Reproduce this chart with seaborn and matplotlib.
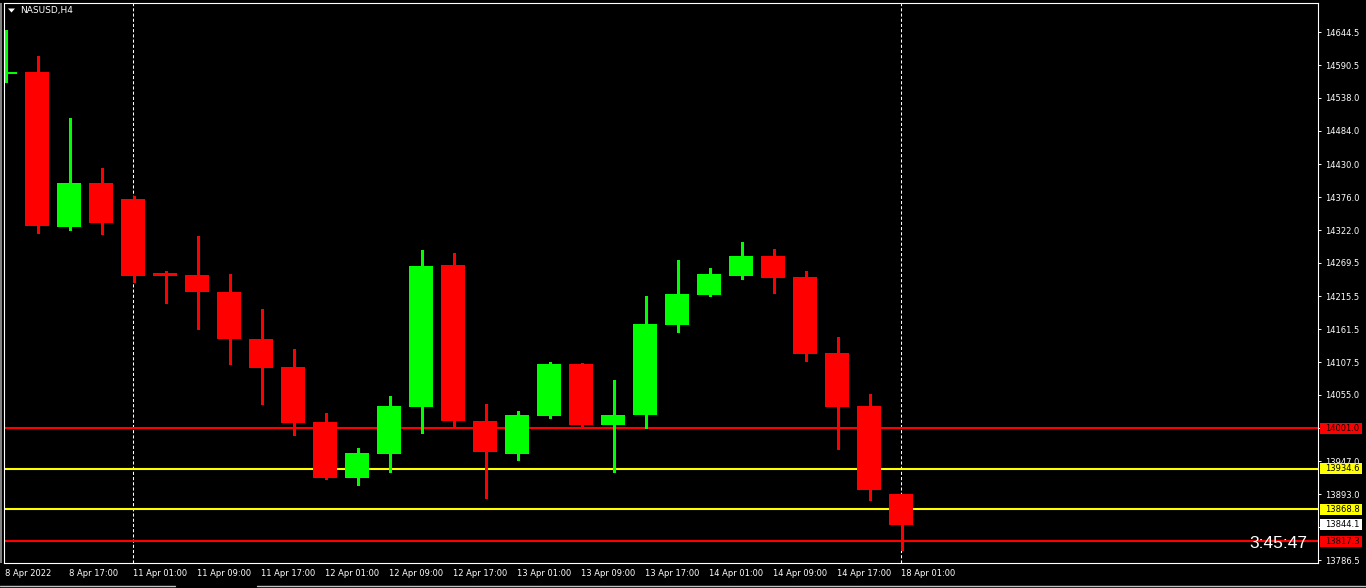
import numpy as np
import pandas as pd
import matplotlib
matplotlib.use('Agg')
import matplotlib.pyplot as plt
import matplotlib.transforms as mtransforms
from matplotlib.patches import Rectangle, Polygon
from matplotlib.lines import Line2D
import seaborn as sns

# ── DATA ──────────────────────────────────────
chart_title = "NASUSD,H4"

opens = [14576.5, 14579.5, 14327.6, 14399.1, 14373.1, 14249.6, 14249.6, 14222.0,
         14145.6, 14100.0, 14010.8, 13919.8, 13958.8, 14035.1, 14265.9, 14012.4,
         13958.8, 14020.5, 14105.0, 14005.9, 14022.1, 14168.4, 14217.1, 14248.0,
         14280.5, 14246.4, 14122.9, 14036.8, 13893.8]
highs = [14647.8, 14605.5, 14504.8, 14423.5, 14378.0, 14256.1, 14313.0, 14251.3,
         14194.4, 14129.4, 14025.4, 13968.5, 14053.0, 14290.3, 14285.4, 14040.0,
         14028.6, 14108.3, 14106.6, 14079.0, 14215.5, 14274.0, 14261.0, 14303.3,
         14291.9, 14256.1, 14148.9, 14056.3, 13894.0]
lows = [14563.3, 14318.1, 14322.8, 14316.3, 14238.3, 14204.1, 14161.9, 14105.0,
        14040.0, 13989.6, 13918.1, 13908.4, 13929.5, 13992.9, 14004.3, 13887.3,
        13949.0, 14017.3, 14002.6, 13929.5, 14001.0, 14157.0, 14215.5, 14243.1,
        14220.4, 14109.9, 13966.9, 13884.0, 13802.8]
closes = [14578.5, 14329.3, 14399.1, 14334.1, 14248.0, 14248.8, 14222.0, 14145.6,
          14098.5, 14009.1, 13919.8, 13960.4, 14036.8, 14264.3, 14012.4, 13962.0,
          14022.1, 14105.0, 14005.9, 14022.1, 14170.0, 14218.8, 14251.3, 14280.5,
          14244.8, 14121.3, 14035.1, 13900.3, 13844.1]

# one label every second H4 bar
time_labels = ['8 Apr 2022', '8 Apr 17:00', '11 Apr 01:00', '11 Apr 09:00',
               '11 Apr 17:00', '12 Apr 01:00', '12 Apr 09:00', '12 Apr 17:00',
               '13 Apr 01:00', '13 Apr 09:00', '13 Apr 17:00', '14 Apr 01:00',
               '14 Apr 09:00', '14 Apr 17:00', '18 Apr 01:00']
separator_labels = ['11 Apr 01:00', '18 Apr 01:00']

price_ticks = [14644.5, 14590.5, 14538.0, 14484.0, 14430.0, 14376.0, 14322.0,
               14269.5, 14215.5, 14161.5, 14107.5, 14055.0, 14001.0, 13947.0,
               13893.0, 13840.5, 13786.5]

level_prices = [14001.0, 13934.6, 13868.8, 13817.3]
level_kinds = ['red', 'yellow', 'yellow', 'red']
current_price = 13844.1
countdown = '3:45:47'

# ── STYLE ─────────────────────────────────────
sns.set_style('dark', rc={'axes.facecolor': 'black', 'figure.facecolor': 'black',
                          'axes.edgecolor': 'white', 'grid.color': 'black'})
plt.rcParams['font.family'] = ['DejaVu Sans']

BULL = '#00FF00'
BEAR = '#FF0000'
level_color = {'red': '#FF0000', 'yellow': '#FFFF00'}

W, H = 1366, 588
PX = 1.625  # price per pixel on the reference scale
fig = plt.figure(figsize=(W / 100, H / 100), dpi=100)
ax = fig.add_axes([4 / W, (H - 563) / H, (1318 - 4) / W, (563 - 2.5) / H])

df = pd.DataFrame({'open': opens, 'high': highs, 'low': lows, 'close': closes})
df['idx'] = np.arange(len(df))
df['bull'] = df['close'] > df['open']
df['color'] = np.where(df['bull'], BULL, BEAR)
df['bottom'] = df[['open', 'close']].min(axis=1)
df['height'] = (df['close'] - df['open']).abs().clip(lower=2.2 * PX)

# period separators
for lab in separator_labels:
    ax.axvline(time_labels.index(lab) * 2, color='white', lw=0.75,
               ls=(0, (3, 2)), zorder=1)

# horizontal levels
for p, k in zip(level_prices, level_kinds):
    ax.axhline(p, color=level_color[k], lw=1.5, zorder=1.5)

# candles (wick nudged half a pixel so it sits on one pixel column)
ax.vlines(df['idx'] + 0.5 / 32, df['low'], df['high'], colors=df['color'], lw=0.8,
          antialiased=False, zorder=2)
ax.bar(df['idx'], df['height'], bottom=df['bottom'], width=0.78,
       color=df['color'], linewidth=0, zorder=2.2)

ax.set_xlim((4 - 5) / 32, (1318 - 5) / 32)
ax.set_ylim(14644.5 - (563 - 32) * PX, 14644.5 + (32 - 2.5) * PX)
ax.grid(False)

for s in ax.spines.values():
    s.set_color('white')
    s.set_linewidth(0.8)

# price axis on the right (labels hidden under the boxes are left blank)
ax.yaxis.tick_right()
ax.set_yticks(price_ticks)
ax.set_yticklabels(['' if v in (14001.0, 13840.5) else f'{v:.1f}' for v in price_ticks])
ax.tick_params(axis='y', colors='white', labelsize=6, length=2.2, width=0.7,
               pad=2.6, direction='out')

# time axis
ax.set_xticks(np.arange(len(time_labels)) * 2)
ax.set_xticklabels(time_labels)
ax.tick_params(axis='x', colors='white', labelsize=6, length=2.2, width=0.7,
               pad=1.8, direction='out')
for t in ax.get_xticklabels():
    t.set_horizontalalignment('left')

# price boxes on the scale
trans = mtransforms.blended_transform_factory(ax.transAxes, ax.transData)
box_x0 = (1320 - 4) / 1314
box_w = 42 / 1314
box_h = 11 * PX
box_prices = level_prices + [current_price]
box_colors = [level_color[k] for k in level_kinds] + ['white']
for p, c in zip(box_prices, box_colors):
    ax.add_patch(Rectangle((box_x0, p - box_h / 2), box_w, box_h, transform=trans,
                           facecolor=c, edgecolor='none', clip_on=False, zorder=5))
    ax.text((1325 - 4) / 1314, p, f'{p:.1f}', transform=trans, color='black',
            fontsize=6, ha='left', va='center', clip_on=False, zorder=6)

# bar countdown
ax.text((1307 - 4) / 1314, (563 - 543.5) / 560.5, countdown, transform=ax.transAxes,
        color='white', fontsize=12.5, family=['Liberation Sans'],
        ha='right', va='center', zorder=6)

# title with small triangle
fig.text(20 / W, 1 - 10.5 / H, chart_title, color='white', fontsize=6.5,
         ha='left', va='center')
fig.patches.append(Polygon([(8 / W, 1 - 8.5 / H), (15 / W, 1 - 8.5 / H),
                            (11.5 / W, 1 - 12.5 / H)], closed=True,
                           facecolor='white', edgecolor='none',
                           transform=fig.transFigure, figure=fig))

# window chrome: left gray edge and bottom tab strip
fig.patches.append(Rectangle((0, (H - 563) / H), 2 / W, 560 / H, facecolor='#808080',
                             edgecolor='none', transform=fig.transFigure, figure=fig))
fig.lines.append(Line2D([0, 175 / W], [1 - 585.5 / H] * 2, color='#c0c0c0', lw=1,
                        transform=fig.transFigure, figure=fig))
fig.lines.append(Line2D([257 / W, 1], [1 - 585.5 / H] * 2, color='#c0c0c0', lw=1,
                        transform=fig.transFigure, figure=fig))

fig.savefig('out.png', dpi=100, facecolor='black')
